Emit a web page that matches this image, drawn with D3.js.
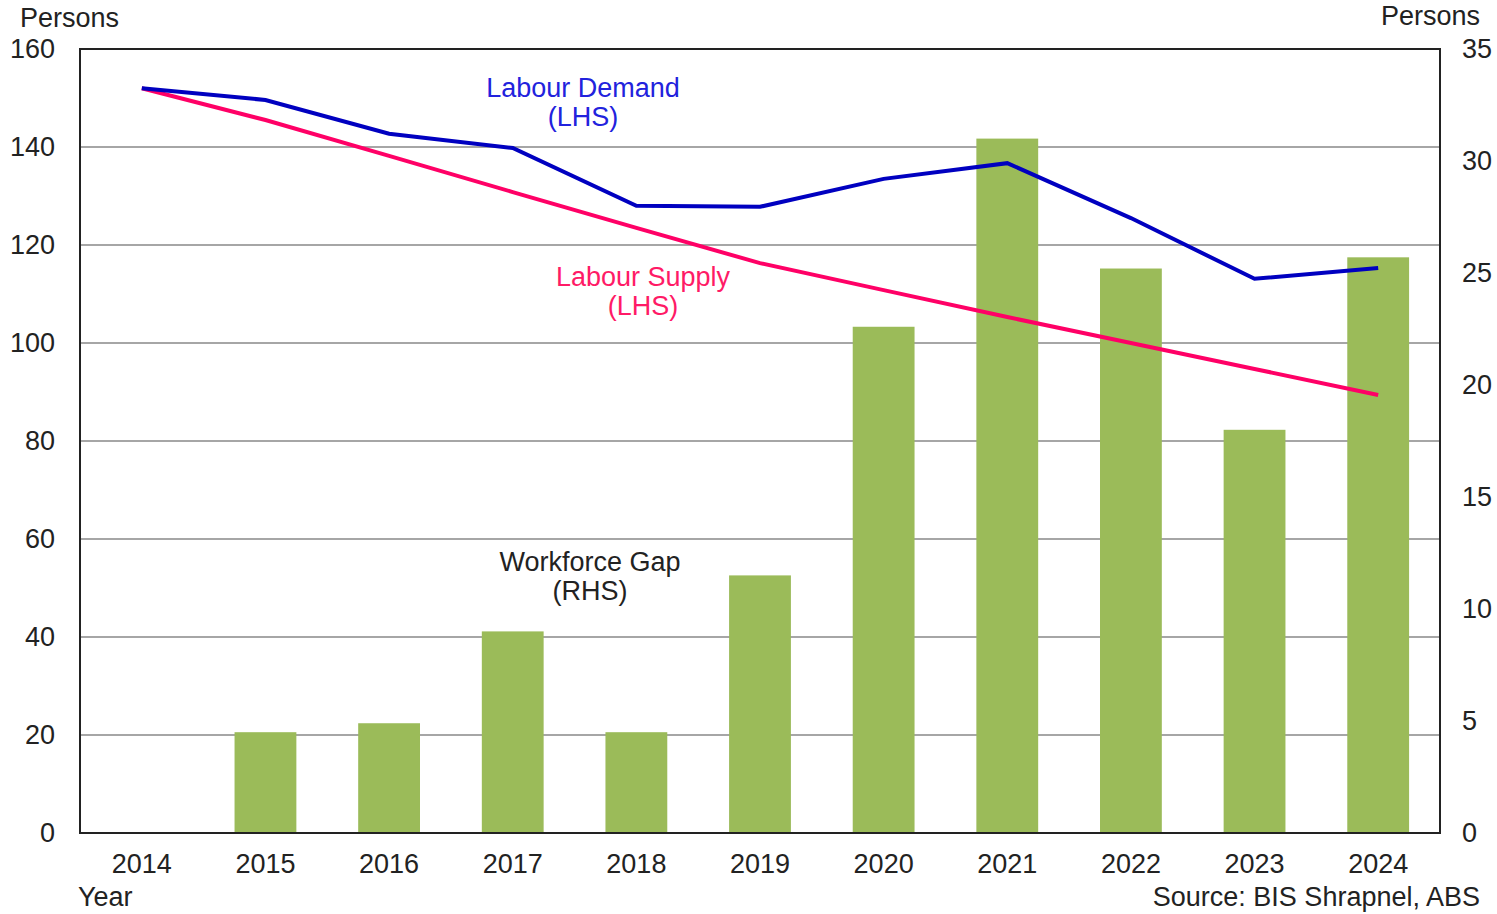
<!DOCTYPE html>
<html>
<head>
<meta charset="utf-8">
<script src="https://cdn.jsdelivr.net/npm/d3@7"></script>
<style>
  html, body { margin: 0; padding: 0; background: #fff; }
  svg { display: block; font-family: "Liberation Sans", Arial, sans-serif; }
</style>
</head>
<body>
<svg id="chart"></svg>
<script>
// data
const years = ["2014", "2015", "2016", "2017", "2018", "2019", "2020", "2021", "2022", "2023", "2024"];
const labourDemand = [152.0, 149.6, 142.7, 139.8, 128.0, 127.8, 133.5, 136.7, 125.5, 113.1, 115.3];
const labourSupply = [152.0, 145.5, 138.2, 130.8, 123.5, 116.3, 110.8, 105.3, 100.0, 94.7, 89.4];
const workforceGap = [null, 4.5, 4.9, 9.0, 4.5, 11.5, 22.6, 31.0, 25.2, 18.0, 25.7];
const leftTicks = [0, 20, 40, 60, 80, 100, 120, 140, 160];
const rightTicks = [0, 5, 10, 15, 20, 25, 30, 35];

const width = 1497, height = 914;
const marginTop = 49, marginRight = 57, marginBottom = 81, marginLeft = 80;
const fontSize = 27;

const svg = d3.select("#chart")
  .attr("width", width)
  .attr("height", height)
  .attr("viewBox", [0, 0, width, height]);

const x = d3.scaleBand()
  .domain(years)
  .range([marginLeft, width - marginRight])
  .paddingInner(0.5)
  .paddingOuter(0.25);

const yL = d3.scaleLinear().domain([0, 160]).range([height - marginBottom, marginTop]);
const yR = d3.scaleLinear().domain([0, 35]).range([height - marginBottom, marginTop]);

const cx = d => x(d) + x.bandwidth() / 2;

// gridlines
svg.append("g")
  .attr("stroke", "#a6a6a6")
  .attr("stroke-width", 2)
  .selectAll()
  .data(leftTicks.filter(d => d > 0 && d < 160))
  .join("line")
  .attr("x1", marginLeft)
  .attr("x2", width - marginRight)
  .attr("y1", d => yL(d))
  .attr("y2", d => yL(d));

// bars (RHS)
svg.append("g")
  .attr("fill", "#9bbb59")
  .selectAll()
  .data(years.map((y, i) => ({year: y, v: workforceGap[i]})).filter(d => d.v != null))
  .join("rect")
  .attr("x", d => x(d.year))
  .attr("y", d => yR(d.v))
  .attr("width", x.bandwidth())
  .attr("height", d => yR(0) - yR(d.v));

// lines (LHS)
const line = d3.line()
  .x((d, i) => cx(years[i]))
  .y(d => yL(d));

svg.append("path")
  .attr("d", line(labourSupply))
  .attr("fill", "none")
  .attr("stroke", "#ff0066")
  .attr("stroke-width", 4);

svg.append("path")
  .attr("d", line(labourDemand))
  .attr("fill", "none")
  .attr("stroke", "#0000c0")
  .attr("stroke-width", 4);

// frame
svg.append("rect")
  .attr("x", marginLeft)
  .attr("y", marginTop)
  .attr("width", width - marginLeft - marginRight)
  .attr("height", height - marginTop - marginBottom)
  .attr("fill", "none")
  .attr("stroke", "#222")
  .attr("stroke-width", 2);

const styleText = g => g.selectAll("text")
  .attr("font-size", fontSize)
  .attr("fill", "#222")
  .attr("font-family", "Liberation Sans, Arial, sans-serif");

// left axis
svg.append("g")
  .attr("transform", `translate(${marginLeft},0)`)
  .call(d3.axisLeft(yL).tickValues(leftTicks).tickSize(0).tickPadding(25))
  .call(g => g.select(".domain").remove())
  .call(styleText);

// right axis
svg.append("g")
  .attr("transform", `translate(${width - marginRight},0)`)
  .call(d3.axisRight(yR).tickValues(rightTicks).tickSize(0).tickPadding(22))
  .call(g => g.select(".domain").remove())
  .call(styleText);

// x axis
svg.append("g")
  .attr("transform", `translate(0,${height - marginBottom})`)
  .call(d3.axisBottom(x).tickSize(0).tickPadding(21))
  .call(g => g.select(".domain").remove())
  .call(styleText);

// axis titles
const txt = (xx, yy, s, anchor, color) => svg.append("text")
  .attr("x", xx).attr("y", yy)
  .attr("text-anchor", anchor)
  .attr("font-size", fontSize)
  .attr("fill", color || "#222")
  .text(s);

txt(20, 27, "Persons", "start");
txt(1480, 25, "Persons", "end");
txt(78, 906, "Year", "start");
txt(1480, 906, "Source: BIS Shrapnel, ABS", "end");

// series labels
txt(583, 97, "Labour Demand", "middle", "#2222dd");
txt(583, 126, "(LHS)", "middle", "#2222dd");
txt(643, 286, "Labour Supply", "middle", "#ff1a66");
txt(643, 315, "(LHS)", "middle", "#ff1a66");
txt(590, 571, "Workforce Gap", "middle", "#222");
txt(590, 600, "(RHS)", "middle", "#222");
</script>
</body>
</html>
